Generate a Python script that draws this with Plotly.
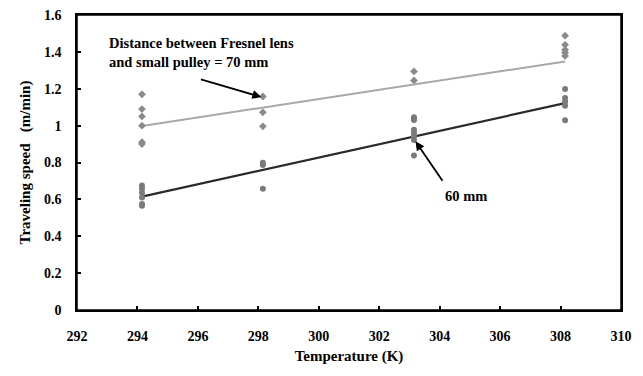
import plotly.graph_objects as go

# Data (Temperature in K)
temp_294 = 294.15
temp_298 = 298.15
temp_303 = 303.15
temp_308 = 308.15

# 70 mm series (diamonds)
x_70 = [temp_294]*6 + [temp_298]*3 + [temp_303]*2 + [temp_308]*5
y_70 = [1.17, 1.09, 1.05, 1.0, 0.91, 0.90,
        1.158, 1.072, 0.996,
        1.294, 1.245,
        1.488, 1.438, 1.411, 1.395, 1.378]

# 60 mm series (circles)
x_60 = [temp_294]*6 + [temp_298]*3 + [temp_303]*7 + [temp_308]*5
y_60 = [0.675, 0.658, 0.636, 0.61, 0.575, 0.565,
        0.798, 0.786, 0.658,
        1.045, 1.03, 0.978, 0.96, 0.942, 0.922, 0.838,
        1.198, 1.15, 1.13, 1.108, 1.029]

# Trend lines (endpoints)
trend_x = [temp_294, temp_308]
trend_70 = [0.998, 1.348]
trend_60 = [0.615, 1.122]

x_range = [292, 310]
y_range = [0, 1.6]

serif = "Liberation Serif"

# plot area in page pixels (page has 8px body margin)
PL, PR, PT, PB = 77, 621, 15, 310
W, H = 643, 376
OFF = 8
pw, ph = PR - PL, PB - PT

fig = go.Figure()
fig.add_trace(go.Scatter(x=trend_x, y=trend_70, mode="lines",
                         line=dict(color="#a8a8a8", width=2), showlegend=False))
fig.add_trace(go.Scatter(x=trend_x, y=trend_60, mode="lines",
                         line=dict(color="#2a2a2a", width=2.2), showlegend=False))
fig.add_trace(go.Scatter(x=x_70, y=y_70, mode="markers",
                         marker=dict(symbol="diamond", size=6, color="#8a8a8a"),
                         showlegend=False))
fig.add_trace(go.Scatter(x=x_60, y=y_60, mode="markers",
                         marker=dict(symbol="circle", size=6, color="#7a7a7a"),
                         showlegend=False))

tickfont = dict(family=serif, size=14, color="black", weight="bold")

fig.update_layout(
    width=W, height=H,
    margin=dict(l=PL - OFF, r=W + OFF - PR, t=PT - OFF, b=H + OFF - PB),
    plot_bgcolor="white", paper_bgcolor="white",
    font=dict(family=serif, size=14, color="black"),
    xaxis=dict(range=x_range, dtick=2, tick0=292, showgrid=False, zeroline=False,
               showline=True, linecolor="black", linewidth=1.5, mirror=True,
               ticks="inside", ticklen=4, tickwidth=1.5, tickcolor="black", automargin=False,
               ticklabelstandoff=12, ticklabeloverflow="allow",
               tickfont=tickfont,
               title=dict(text="<b>Temperature (K)</b>", font=dict(family=serif, size=15), standoff=8)),
    yaxis=dict(range=y_range, dtick=0.2, tick0=0, showgrid=False, zeroline=False,
               showline=True, linecolor="black", linewidth=1.5, mirror=True,
               ticks="inside", ticklen=4, tickwidth=1.5, tickcolor="black", automargin=False,
               ticklabelstandoff=11, ticklabeloverflow="allow",
               tickfont=tickfont,
               title=dict(text="<b>Traveling speed   (m/min)</b>", font=dict(family=serif, size=15), standoff=10)),
    shapes=[dict(type="rect", xref="x", yref="y", x0=x_range[0], x1=x_range[1],
                 y0=y_range[0], y1=y_range[1], line=dict(color="black", width=1.5),
                 fillcolor="rgba(0,0,0,0)", layer="above")],
    annotations=[
        dict(xref="paper", yref="paper", x=(107 - PL) / pw, y=(PB - 33) / ph, xanchor="left", yanchor="top",
             text="<b>Distance between Fresnel lens<br>and small pulley = 70 mm</b>",
             showarrow=False, align="left", font=dict(family=serif, size=14.5, color="black")),
        dict(x=temp_298 - 0.05, y=1.155, xref="x", yref="y",
             ax=-62, ay=-18, text="",
             showarrow=True, arrowhead=2, arrowsize=1, arrowwidth=1.8, arrowcolor="black"),
        dict(xref="paper", yref="paper", x=(443 - PL) / pw, y=(PB - 196) / ph, xanchor="left", yanchor="middle",
             text="<b>60 mm</b>", showarrow=False, font=dict(family=serif, size=14.5, color="black")),
        dict(x=temp_303 + 0.05, y=0.915, xref="x", yref="y",
             text="", showarrow=True, arrowhead=2, arrowsize=1, arrowwidth=1.8, arrowcolor="black",
             ax=28, ay=41),
    ],
)

fig.write_html("out.html")
